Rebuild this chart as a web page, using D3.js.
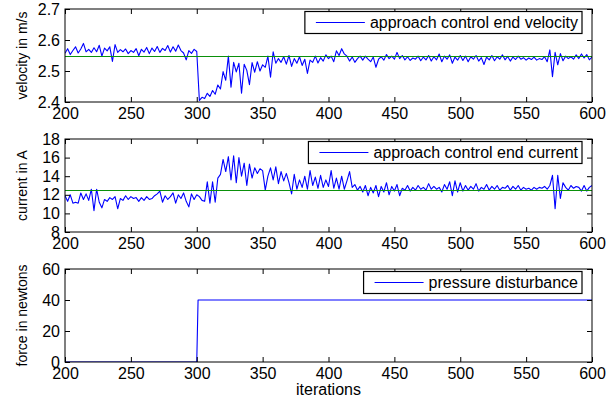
<!DOCTYPE html>
<html>
  <head>
    <meta charset="utf-8">
    <title>Approach control</title>
    <style>
      body { margin: 0; background: #fff; }
      text { font-family: "Liberation Sans", Arial, sans-serif; fill: #000; }
      .tick line { stroke: #000; }
      .domain { display: none; }
    </style>
  </head>
  <body>
    <script src="https://d3js.org/d3.v7.min.js"></script>
    <script>
      // iterations are sampled every 2 steps, from 200 to 600
      var iterStart = 200, iterStep = 2;
      var xTicks = [200, 250, 300, 350, 400, 450, 500, 550, 600];

      var velocityRef = 2.55;
      var velocity = [
        2.557, 2.572, 2.553, 2.566, 2.578, 2.558, 2.571, 2.589, 2.562, 2.570,
        2.560, 2.575, 2.562, 2.583, 2.548, 2.574, 2.565, 2.578, 2.531, 2.585,
        2.560, 2.569, 2.562, 2.571, 2.556, 2.566, 2.560, 2.572, 2.549, 2.570,
        2.561, 2.576, 2.556, 2.574, 2.563, 2.579, 2.560, 2.573, 2.566, 2.582,
        2.561, 2.578, 2.564, 2.584, 2.566, 2.558, 2.536, 2.566, 2.557, 2.570,
        2.563,
        2.405, 2.415, 2.411, 2.428, 2.418, 2.437, 2.425, 2.455, 2.442, 2.498,
        2.470, 2.548, 2.448, 2.528, 2.497, 2.525, 2.428, 2.522, 2.502, 2.456,
        2.527, 2.496, 2.530, 2.500, 2.520, 2.512, 2.548, 2.480, 2.562, 2.525,
        2.540, 2.528, 2.546, 2.522, 2.550, 2.515, 2.540, 2.525, 2.546, 2.518,
        2.538, 2.492, 2.535, 2.528, 2.548, 2.526, 2.543, 2.532, 2.552, 2.540,
        2.548, 2.530, 2.565, 2.550, 2.572, 2.555, 2.548, 2.532, 2.545, 2.528,
        2.540, 2.548, 2.535, 2.548, 2.538, 2.530, 2.545, 2.512, 2.538, 2.546,
        2.535, 2.553, 2.540, 2.548, 2.538, 2.560, 2.540, 2.550, 2.536, 2.546,
        2.534, 2.542, 2.538, 2.548, 2.533, 2.545, 2.536, 2.550, 2.532, 2.546,
        2.536, 2.555, 2.530, 2.548, 2.538, 2.552, 2.525, 2.545, 2.535, 2.550,
        2.534, 2.548, 2.530, 2.546, 2.538, 2.550, 2.532, 2.543, 2.521, 2.545,
        2.536, 2.550, 2.533, 2.546, 2.538, 2.552, 2.536, 2.547, 2.532, 2.545,
        2.537, 2.548, 2.538, 2.543, 2.535, 2.542, 2.537, 2.545, 2.535, 2.540,
        2.537, 2.546, 2.530, 2.568, 2.482, 2.560, 2.520, 2.556, 2.533, 2.548,
        2.540, 2.546, 2.538, 2.552, 2.540, 2.555, 2.542, 2.553, 2.536, 2.545
      ];

      var currentRef = 12.5;
      var current = [
        11.9, 11.3, 12.0, 11.1, 11.2, 11.1, 12.2, 11.5, 12.1, 11.4,
        12.6, 10.3, 12.6, 11.2, 10.6, 11.5, 11.3, 11.7, 11.5, 11.8,
        10.5, 11.6, 11.4, 11.9, 11.5, 11.8, 11.6, 11.7, 11.3, 11.7,
        11.4, 11.8, 11.5, 11.6, 11.9, 12.1, 12.4, 11.2, 11.9, 11.5,
        11.8, 12.2, 11.1, 12.0, 11.6, 12.2, 11.3, 10.7, 12.1, 11.5,
        12.0,
        11.8, 11.4, 11.3, 13.4, 11.1, 13.4, 11.2, 13.8, 14.2, 15.8,
        14.5, 16.1, 13.6, 16.2, 13.3, 16.0, 14.0, 15.4, 13.0, 15.3,
        13.8, 14.9, 14.3, 14.8, 14.6, 12.5, 14.0, 14.9, 13.6, 15.0,
        13.2, 14.5, 13.5, 14.3, 13.3, 12.1, 14.2, 12.6, 13.6, 12.8,
        14.0, 12.6, 14.6, 13.0, 13.9, 12.7, 14.1, 12.8, 13.6, 12.9,
        14.6, 12.7, 13.8, 12.6, 14.0, 12.6, 13.5, 14.5, 12.8, 13.1,
        12.5, 12.9, 12.3, 13.0, 11.9, 12.8, 12.2, 13.0, 11.8, 12.9,
        12.3, 13.3, 12.0, 12.9, 12.4, 13.1, 11.9, 12.7, 12.5, 13.0,
        12.4, 12.8, 12.5, 13.0, 12.6, 12.8, 12.5, 13.2, 12.6, 12.9,
        12.6, 12.8, 12.3, 13.1, 12.6, 13.4, 11.9, 13.5, 12.3, 13.3,
        12.4, 13.0, 12.5, 12.9, 12.6, 13.2, 12.4, 12.8, 12.6, 13.1,
        12.5, 12.9, 12.6, 13.0, 12.5, 12.8, 12.7, 13.0, 12.5, 12.9,
        12.6, 13.0, 12.5, 12.8, 12.6, 12.7, 12.5, 12.8, 12.6, 12.8,
        12.7, 12.9, 12.6, 13.0, 14.1, 10.5, 14.1, 11.6, 13.3, 12.8,
        12.5, 13.0, 12.7, 12.9, 12.8, 12.4, 13.0, 12.4, 12.8, 13.0
      ];

      // step disturbance
      var forceIter = [200, 300, 301, 600];
      var force = [0, 0, 40, 40];

      var W = 615, H = 403;
      var left = 65, right = 592, panelH = 93;

      var svg = d3.select("body").append("svg")
          .attr("width", W)
          .attr("height", H);

      var x = d3.scaleLinear().domain([200, 600]).range([left, right]);

      function toPoints(vals) {
        return vals.map(function(v, i) { return [iterStart + i * iterStep, v]; });
      }

      var panels = [
        { top: 9, domain: [2.4, 2.7], ticks: [2.4, 2.5, 2.6, 2.7], fmt: d3.format(".1f"),
          ylabel: "velocity in m/s", legend: "approach control end velocity",
          data: toPoints(velocity), ref: velocityRef },
        { top: 139, domain: [8, 18], ticks: [8, 10, 12, 14, 16, 18], fmt: d3.format("d"),
          ylabel: "current in A", legend: "approach control end current",
          data: toPoints(current), ref: currentRef },
        { top: 269, domain: [0, 60], ticks: [0, 20, 40, 60], fmt: d3.format("d"),
          ylabel: "force in newtons", legend: "pressure disturbance",
          data: forceIter.map(function(d, i) { return [d, force[i]]; }), ref: null }
      ];

      panels.forEach(function(p, k) {
        var y = d3.scaleLinear().domain(p.domain).range([p.top + panelH, p.top]);
        var g = svg.append("g");

        g.append("clipPath").attr("id", "clip" + k)
          .append("rect")
          .attr("x", left).attr("y", p.top)
          .attr("width", right - left).attr("height", panelH);

        var line = d3.line()
            .x(function(d) { return x(d[0]); })
            .y(function(d) { return y(d[1]); });

        var plot = g.append("g").attr("clip-path", "url(#clip" + k + ")");

        plot.append("path")
          .datum(p.data)
          .attr("d", line)
          .attr("fill", "none")
          .attr("stroke", "#0000ff")
          .attr("stroke-width", 1.1)
          .attr("stroke-linejoin", "round");

        // reference level drawn over the signal, snapped to a pixel row
        if (p.ref !== null) {
          var ry = Math.round(y(p.ref)) + 0.5;
          plot.append("line")
            .attr("x1", x(200)).attr("x2", x(600))
            .attr("y1", ry).attr("y2", ry)
            .attr("stroke", "#0a900a")
            .attr("stroke-width", 1);
        }

        // axes, ticks pointing inward on all four sides
        g.append("g")
          .attr("transform", "translate(0," + (p.top + panelH) + ")")
          .call(d3.axisBottom(x).tickValues(xTicks).tickSize(-5).tickPadding(6))
          .selectAll("text").style("font-size", "16px");
        g.append("g")
          .attr("transform", "translate(0," + p.top + ")")
          .call(d3.axisTop(x).tickValues(xTicks).tickSize(-5).tickFormat(""));
        g.append("g")
          .attr("transform", "translate(" + left + ",0)")
          .call(d3.axisLeft(y).tickValues(p.ticks).tickSize(-5).tickPadding(5).tickFormat(p.fmt))
          .selectAll("text").style("font-size", "16px");
        g.append("g")
          .attr("transform", "translate(" + right + ",0)")
          .call(d3.axisRight(y).tickValues(p.ticks).tickSize(-5).tickFormat(""));

        g.selectAll(".tick text").attr("font-family", null);

        g.append("rect")
          .attr("x", left).attr("y", p.top)
          .attr("width", right - left).attr("height", panelH)
          .attr("fill", "none")
          .attr("stroke", "#000")
          .attr("stroke-width", 1);

        g.append("text")
          .attr("transform", "translate(27," + (p.top + panelH / 2) + ") rotate(-90)")
          .attr("text-anchor", "middle")
          .style("font-size", "14px")
          .text(p.ylabel);

        // legend
        var lg = g.append("g");
        var box = lg.append("rect");
        var txt = lg.append("text")
          .attr("x", 578)
          .attr("y", p.top + 13.5 + 5.5)
          .attr("text-anchor", "end")
          .style("font-size", "16px")
          .text(p.legend);
        var len = txt.node().getComputedTextLength();
        var textStart = 578 - len;
        lg.append("line")
          .attr("x1", textStart - 54).attr("x2", textStart - 5)
          .attr("y1", p.top + 13.5).attr("y2", p.top + 13.5)
          .attr("stroke", "#0000ff")
          .attr("stroke-width", 1);
        box.attr("x", textStart - 65).attr("y", p.top + 2.5)
          .attr("width", 582 - (textStart - 65)).attr("height", 22)
          .attr("fill", "#fff")
          .attr("stroke", "#000")
          .attr("stroke-width", 1.2);
      });

      svg.append("text")
        .attr("x", (left + right) / 2)
        .attr("y", 395)
        .attr("text-anchor", "middle")
        .style("font-size", "16px")
        .text("iterations");
    </script>
  </body>
</html>
